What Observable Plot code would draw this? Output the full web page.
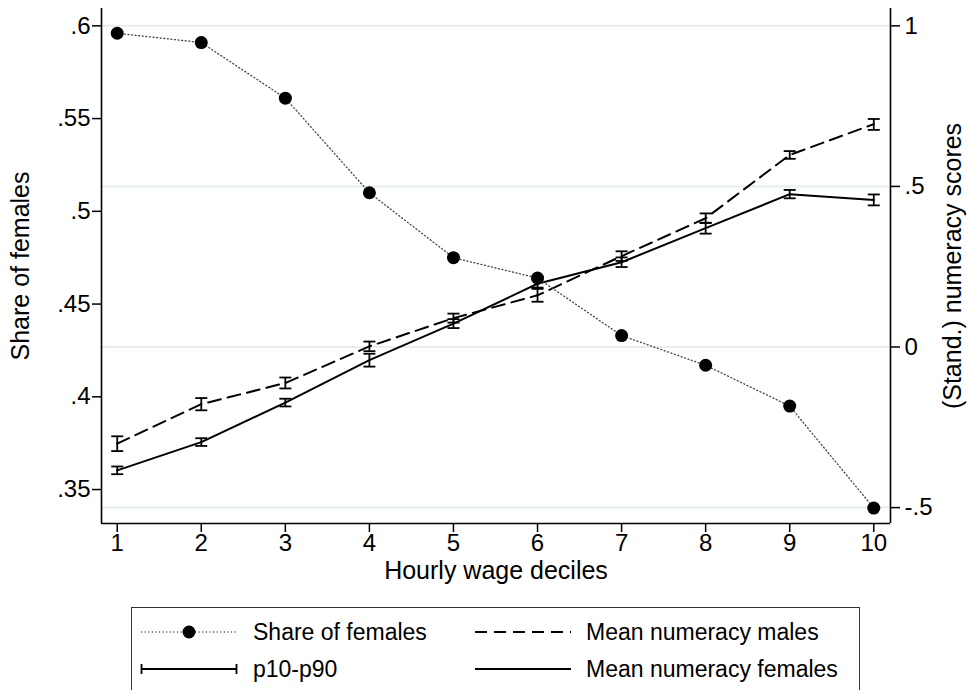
<!DOCTYPE html>
<html>
<head>
<meta charset="utf-8">
<script src="https://cdn.jsdelivr.net/npm/d3@7"></script>
<script src="https://cdn.jsdelivr.net/npm/@observablehq/plot@0.6"></script>
<style>
  html, body { margin: 0; padding: 0; background: white; }
  #wrap { position: relative; width: 971px; height: 690px; overflow: hidden; font-family: "Liberation Sans", Arial, sans-serif; }
  #legend { position: absolute; left: 131px; top: 607px; width: 729px; height: 110px; border: 1.5px solid #333; box-sizing: border-box; }
  .lg-text { position: absolute; font-size: 23px; line-height: 30px; white-space: nowrap; color: #000; }
</style>
</head>
<body>
<div id="wrap"></div>
<script>
// ---------- data ----------
const deciles = [1, 2, 3, 4, 5, 6, 7, 8, 9, 10];
const shareFemales = [0.596, 0.591, 0.561, 0.510, 0.475, 0.464, 0.433, 0.417, 0.395, 0.340];
const numeracyMales = [-0.301, -0.178, -0.112, 0.002, 0.090, 0.161, 0.283, 0.401, 0.598, 0.694];
const numeracyMalesLo = [-0.324, -0.197, -0.129, -0.013, 0.076, 0.141, 0.268, 0.386, 0.586, 0.676];
const numeracyMalesHi = [-0.278, -0.159, -0.095, 0.017, 0.104, 0.181, 0.298, 0.416, 0.610, 0.710];
const numeracyFemales = [-0.384, -0.296, -0.173, -0.041, 0.073, 0.197, 0.264, 0.370, 0.476, 0.458];
const numeracyFemalesLo = [-0.396, -0.308, -0.185, -0.061, 0.059, 0.185, 0.249, 0.353, 0.463, 0.441];
const numeracyFemalesHi = [-0.372, -0.284, -0.161, -0.021, 0.087, 0.209, 0.279, 0.387, 0.489, 0.475];

const leftTicks = [0.35, 0.4, 0.45, 0.5, 0.55, 0.6];
const leftTickLabels = [".35", ".4", ".45", ".5", ".55", ".6"];
const rightTicks = [-0.5, 0, 0.5, 1];
const rightTickLabels = ["-.5", "0", ".5", "1"];

const xLabel = "Hourly wage deciles";
const yLeftLabel = "Share of females";
const yRightLabel = "(Stand.) numeracy scores";
const legendLabels = ["Share of females", "p10-p90", "Mean numeracy males", "Mean numeracy females"];

const xDomain = [0.813, 10.199];
const yDomain = [-0.5495, 1.054];

// left axis (share) expressed on the right axis scale: .6 <-> 1, .35 <-> -0.444
const toRight = s => 1 + (s - 0.6) * 5.775;

// ---------- build table ----------
const rows = deciles.map((d, i) => ({
  decile: d,
  share: toRight(shareFemales[i]),
  male: numeracyMales[i], maleLo: numeracyMalesLo[i], maleHi: numeracyMalesHi[i],
  female: numeracyFemales[i], femaleLo: numeracyFemalesLo[i], femaleHi: numeracyFemalesHi[i]
}));

const leftPos = leftTicks.map(toRight);
const leftMap = new Map(leftPos.map((p, i) => [p, leftTickLabels[i]]));
const rightMap = new Map(rightTicks.map((p, i) => [p, rightTickLabels[i]]));

const capSymbol = {
  draw(ctx, size) {
    const w = Math.sqrt(size / Math.PI);
    ctx.moveTo(-w, 0);
    ctx.lineTo(w, 0);
  }
};

const grid = "#e6eef1";
const font = "Liberation Sans, Arial, sans-serif";

const chart = Plot.plot({
  width: 971,
  height: 600,
  marginLeft: 101,
  marginRight: 81,
  marginTop: 8,
  marginBottom: 77,
  style: { fontFamily: font, fontSize: "24px", background: "white", color: "black", overflow: "visible" },
  x: { domain: xDomain },
  y: { domain: yDomain },
  marks: [
    Plot.ruleY(rightTicks, { stroke: grid, strokeWidth: 2 }),
    // axis lines
    Plot.ruleX([xDomain[0]], { stroke: "black", strokeWidth: 1.6 }),
    Plot.ruleX([xDomain[1]], { stroke: "black", strokeWidth: 1.6 }),
    Plot.ruleY([yDomain[0]], { stroke: "black", strokeWidth: 1.6 }),
    Plot.axisY(leftPos, { anchor: "left", tickSize: 9, tickPadding: 2, strokeWidth: 1.5, fontSize: 24, tickFormat: d => leftMap.get(d), label: null }),
    Plot.axisY(rightTicks, { anchor: "right", tickSize: 9, tickPadding: 5, strokeWidth: 1.5, fontSize: 24, tickFormat: d => rightMap.get(d), label: null }),
    Plot.axisX(deciles, { anchor: "bottom", tickSize: 9, tickPadding: 1, strokeWidth: 1.5, fontSize: 24, tickFormat: d => String(d), label: null }),
    // axis titles
    Plot.text([xLabel], { frameAnchor: "bottom", lineAnchor: "bottom", textAnchor: "middle", dy: 55, text: d => d, fontSize: 25 }),
    Plot.text([yLeftLabel], { frameAnchor: "left", textAnchor: "middle", lineAnchor: "middle", dx: -81, rotate: -90, text: d => d, fontSize: 25 }),
    Plot.text([yRightLabel], { frameAnchor: "right", textAnchor: "middle", lineAnchor: "middle", dx: 62, rotate: -90, text: d => d, fontSize: 25 }),
    // numeracy lines
    Plot.line(rows, { x: "decile", y: "male", stroke: "black", strokeWidth: 2, strokeDasharray: "13,7" }),
    Plot.line(rows, { x: "decile", y: "female", stroke: "black", strokeWidth: 2 }),
    // error bars
    Plot.ruleX(rows, { x: "decile", y1: "maleLo", y2: "maleHi", stroke: "black", strokeWidth: 1.8 }),
    Plot.dot(rows, { x: "decile", y: "maleLo", symbol: capSymbol, r: 6, stroke: "black", strokeWidth: 1.8, fill: "none" }),
    Plot.dot(rows, { x: "decile", y: "maleHi", symbol: capSymbol, r: 6, stroke: "black", strokeWidth: 1.8, fill: "none" }),
    Plot.ruleX(rows, { x: "decile", y1: "femaleLo", y2: "femaleHi", stroke: "black", strokeWidth: 1.8 }),
    Plot.dot(rows, { x: "decile", y: "femaleLo", symbol: capSymbol, r: 6, stroke: "black", strokeWidth: 1.8, fill: "none" }),
    Plot.dot(rows, { x: "decile", y: "femaleHi", symbol: capSymbol, r: 6, stroke: "black", strokeWidth: 1.8, fill: "none" }),
    // share of females
    Plot.line(rows, { x: "decile", y: "share", stroke: "#444", strokeWidth: 1.3, strokeDasharray: "1,2.6" }),
    Plot.dot(rows, { x: "decile", y: "share", r: 6.5, fill: "black", stroke: "none" })
  ]
});

const wrap = document.getElementById("wrap");
wrap.appendChild(chart);

// ---------- legend (HTML below the SVG) ----------
const legend = document.createElement("div");
legend.id = "legend";
wrap.appendChild(legend);

const ns = "http://www.w3.org/2000/svg";
function symbolSvg(left, top, kind) {
  const svg = document.createElementNS(ns, "svg");
  svg.setAttribute("width", 100);
  svg.setAttribute("height", 30);
  svg.style.position = "absolute";
  svg.style.left = left + "px";
  svg.style.top = top + "px";
  const line = document.createElementNS(ns, "line");
  line.setAttribute("x1", 1); line.setAttribute("x2", 97);
  line.setAttribute("y1", 15); line.setAttribute("y2", 15);
  line.setAttribute("stroke", "black");
  if (kind === "share") {
    line.setAttribute("stroke", "#444");
    line.setAttribute("stroke-width", 1.3);
    line.setAttribute("stroke-dasharray", "1,2.6");
    svg.appendChild(line);
    const c = document.createElementNS(ns, "circle");
    c.setAttribute("cx", 49); c.setAttribute("cy", 15); c.setAttribute("r", 6.5);
    svg.appendChild(c);
  } else if (kind === "range") {
    line.setAttribute("stroke-width", 2);
    svg.appendChild(line);
    for (const x of [1.5, 96.5]) {
      const t = document.createElementNS(ns, "line");
      t.setAttribute("x1", x); t.setAttribute("x2", x);
      t.setAttribute("y1", 10); t.setAttribute("y2", 20);
      t.setAttribute("stroke", "black"); t.setAttribute("stroke-width", 1.8);
      svg.appendChild(t);
    }
  } else if (kind === "dash") {
    line.setAttribute("stroke-width", 2);
    line.setAttribute("stroke-dasharray", "12,7");
    svg.appendChild(line);
  } else {
    line.setAttribute("stroke-width", 2);
    svg.appendChild(line);
  }
  return svg;
}
function addText(left, top, txt) {
  const d = document.createElement("div");
  d.className = "lg-text";
  d.style.left = left + "px";
  d.style.top = top + "px";
  d.textContent = txt;
  return d;
}
// positions relative to the legend box (box at 131,607)
const kinds = ["share", "range", "dash", "solid"];
const colSym = [8, 8, 342, 342];
const colTxt = [121, 121, 454, 454];
const rowTop = [9, 46, 9, 46];
kinds.forEach((k, i) => {
  legend.appendChild(symbolSvg(colSym[i], rowTop[i], k));
  legend.appendChild(addText(colTxt[i], rowTop[i], legendLabels[i]));
});
</script>
</body>
</html>
